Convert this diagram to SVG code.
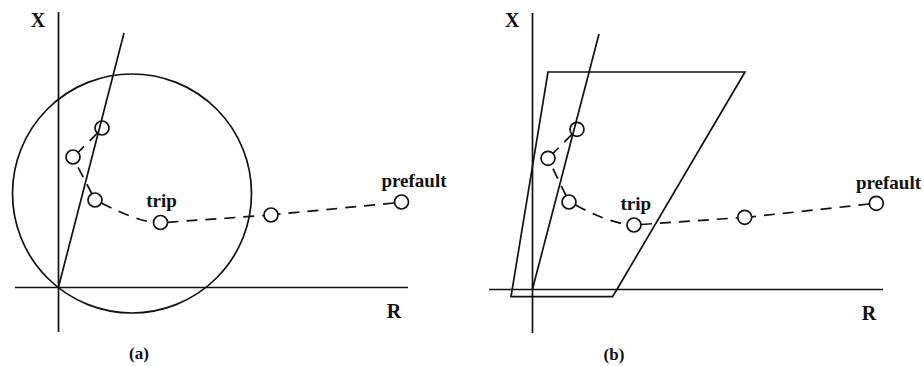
<svg xmlns="http://www.w3.org/2000/svg" width="924" height="366" viewBox="0 0 924 366">
<style>
.ln{fill:none;stroke:#111;stroke-width:1.7}
.ds{fill:none;stroke:#111;stroke-width:1.7;stroke-dasharray:11 8}
.pt{fill:none;stroke:#111;stroke-width:1.7}
.lb{font-family:"Liberation Serif","Times New Roman",serif;font-weight:bold;font-size:19px;fill:#111;text-anchor:middle}
.ax{font-family:"Liberation Serif","Times New Roman",serif;font-weight:bold;font-size:20px;fill:#111;text-anchor:middle}
.cap{font-family:"Liberation Serif","Times New Roman",serif;font-weight:bold;font-size:17px;fill:#111;text-anchor:middle}
</style>
<rect width="924" height="366" fill="#fff"/>
<g id="panel-a">
  <g id="a-axes">
    <line class="ln" x1="58.5" y1="12" x2="58.5" y2="332"/>
    <line class="ln" x1="15" y1="287.5" x2="408" y2="287.5"/>
    <text class="ax" x="38" y="26.5">X</text>
    <text class="ax" x="394" y="318">R</text>
  </g>
  <g id="a-line"><line class="ln" x1="58.5" y1="287" x2="124" y2="33"/></g>
  <g id="a-mho"><circle class="ln" cx="132" cy="193.5" r="119.5"/></g>
  <g id="a-connectors">
    <path class="ds" d="M97.5,133 L78,152.5"/>
    <path class="ds" d="M92,194 L76,163.5"/>
    <path class="ds" d="M101.3,203 Q135,220 153.5,222.5"/>
    <path class="ds" d="M167.5,222.3 L264,215.5"/>
    <path class="ds" d="M394,203 L278,214.2"/>
  </g>
  <g id="a-p1"><circle class="pt" cx="102" cy="128" r="7"/></g>
  <g id="a-p2"><circle class="pt" cx="73" cy="157" r="7"/></g>
  <g id="a-p3"><circle class="pt" cx="95" cy="200" r="7"/></g>
  <g id="a-trip"><circle class="pt" cx="160.5" cy="222.5" r="7"/><text class="lb" x="161.5" y="206.5">trip</text></g>
  <g id="a-p5"><circle class="pt" cx="271" cy="215" r="7"/></g>
  <g id="a-prefault"><circle class="pt" cx="401.5" cy="202" r="7"/><text class="lb" x="414" y="187">prefault</text></g>
  <text class="cap" x="139" y="358.5">(a)</text>
</g>
<g id="panel-b">
  <g id="b-axes">
    <line class="ln" x1="532.5" y1="13" x2="532.5" y2="333"/>
    <line class="ln" x1="489" y1="289.5" x2="883" y2="289.5"/>
    <text class="ax" x="512.3" y="26.7">X</text>
    <text class="ax" x="869" y="320">R</text>
  </g>
  <g id="b-line"><line class="ln" x1="532.5" y1="289" x2="599" y2="34"/></g>
  <g id="b-quad"><path class="ln" d="M548,72 L745,72 L616,291 L612.5,296.7 L511,296.7 Z"/></g>
  <g id="b-connectors">
    <path class="ds" d="M572,134.3 L553,153.3"/>
    <path class="ds" d="M566,195.7 L551,164.6"/>
    <path class="ds" d="M575.5,205 Q605,221 627,224.5"/>
    <path class="ds" d="M641,224.5 L737.7,217.8"/>
    <path class="ds" d="M869.3,204 L751.7,216.8"/>
  </g>
  <g id="b-p1"><circle class="pt" cx="577" cy="129.3" r="7"/></g>
  <g id="b-p2"><circle class="pt" cx="548" cy="158.3" r="7"/></g>
  <g id="b-p3"><circle class="pt" cx="569" cy="202" r="7"/></g>
  <g id="b-trip"><circle class="pt" cx="634" cy="225" r="7"/><text class="lb" x="635.7" y="210">trip</text></g>
  <g id="b-p5"><circle class="pt" cx="744.7" cy="217.3" r="7"/></g>
  <g id="b-prefault"><circle class="pt" cx="876.3" cy="203.3" r="7"/><text class="lb" x="888.5" y="189.3">prefault</text></g>
  <text class="cap" x="614" y="360">(b)</text>
</g>
</svg>
